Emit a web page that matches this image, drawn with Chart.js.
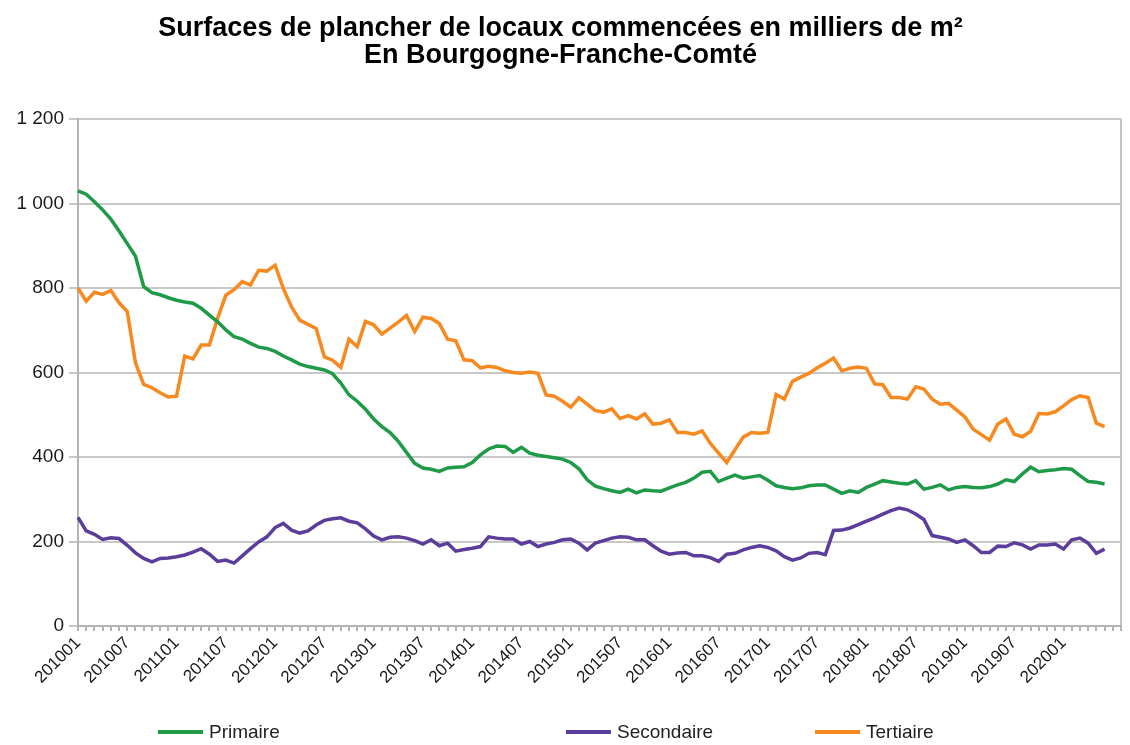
<!DOCTYPE html>
<html lang="fr">
<head>
<meta charset="utf-8">
<script src="https://cdn.jsdelivr.net/npm/chart.js@4.4.1/dist/chart.umd.min.js"></script>
<style>
  body { margin: 0; background: #fff; }
  #cadre { position: relative; width: 1130px; height: 745px; }
  .legende { position: absolute; top: 721px; display: flex; align-items: center;
    font: 19px "Liberation Sans", Arial, sans-serif; color: #222; }
  .legende span.trait { display: inline-block; width: 45px; height: 4px; margin-right: 6px; }
</style>
</head>
<body>
<div id="cadre">
  <canvas id="graphique" width="1130" height="745"></canvas>
  <div class="legende" style="left:158px"><span class="trait" style="background:#1f9a48"></span>Primaire</div>
  <div class="legende" style="left:566px"><span class="trait" style="background:#5b3d9b"></span>Secondaire</div>
  <div class="legende" style="left:815px"><span class="trait" style="background:#f7891f"></span>Tertiaire</div>
</div>
<script>
// ========== DONNEES ==========
const mois = [
  '201001','201002','201003','201004','201005','201006','201007','201008','201009','201010','201011','201012',
  '201101','201102','201103','201104','201105','201106','201107','201108','201109','201110','201111','201112',
  '201201','201202','201203','201204','201205','201206','201207','201208','201209','201210','201211','201212',
  '201301','201302','201303','201304','201305','201306','201307','201308','201309','201310','201311','201312',
  '201401','201402','201403','201404','201405','201406','201407','201408','201409','201410','201411','201412',
  '201501','201502','201503','201504','201505','201506','201507','201508','201509','201510','201511','201512',
  '201601','201602','201603','201604','201605','201606','201607','201608','201609','201610','201611','201612',
  '201701','201702','201703','201704','201705','201706','201707','201708','201709','201710','201711','201712',
  '201801','201802','201803','201804','201805','201806','201807','201808','201809','201810','201811','201812',
  '201901','201902','201903','201904','201905','201906','201907','201908','201909','201910','201911','201912',
  '202001','202002','202003','202004','202005','202006','202007','202008'
];

// libellés affichés sous l'axe (un sur six)
const moisAffiches = [
  '201001','201007','201101','201107','201201','201207','201301','201307','201401','201407','201501',
  '201507','201601','201607','201701','201707','201801','201807','201901','201907','202001'
];

const primaire = [
  1030, 1022, 1004, 985, 963, 935, 905, 875, 803, 789, 784, 777,
  771, 767, 764, 752, 736, 720, 701, 685, 679, 669, 660, 657,
  650, 639, 630, 620, 614, 610, 606, 597, 575, 547, 532, 513,
  490, 472, 458, 437, 411, 385, 374, 371, 366, 374, 376, 377,
  387, 405, 419, 426, 425, 411, 423, 409, 404, 401, 398, 395,
  387, 372, 346, 331, 325, 320, 316, 324, 315, 322, 320, 319,
  327, 334, 340, 350, 364, 366, 342, 350, 357, 350, 353, 356,
  345, 332, 328, 325, 327, 332, 334, 334, 324, 314, 320, 316,
  328, 336, 344, 341, 338, 336, 344, 324, 328, 334, 322, 328,
  330, 328, 327, 330, 336, 346, 342, 360, 376, 365, 368, 370,
  373, 371, 356, 342, 340, 336, null, null
];

const secondaire = [
  257, 225, 217, 205, 209, 207, 191, 173, 160, 152, 160, 161,
  164, 168, 175, 183, 170, 153, 156, 149, 166, 183, 199, 211,
  233, 243, 227, 220, 225, 239, 250, 254, 256, 248, 244, 230,
  213, 204, 210, 211, 208, 202, 194, 204, 190, 196, 177, 181,
  184, 188, 211, 208, 206, 206, 194, 200, 188, 194, 198, 204,
  206, 196, 180, 196, 202, 208, 211, 210, 204, 204, 190, 177,
  170, 173, 174, 166, 166, 162, 153, 170, 172, 180, 186, 190,
  186, 178, 164, 156, 161, 172, 174, 169, 226, 227, 232, 240,
  248, 256, 265, 273, 279, 275, 265, 252, 214, 210, 206, 198,
  204, 190, 174, 174, 189, 188, 197, 192, 182, 192, 192, 194,
  182, 204, 208, 196, 172, 182, null, null
];

const tertiaire = [
  800, 769, 790, 785, 794, 765, 744, 623, 572, 564, 552, 542,
  544, 639, 632, 665, 665, 728, 783, 796, 815, 807, 842, 840,
  854, 799, 755, 724, 714, 704, 637, 629, 612, 679, 661, 721,
  713, 691, 705, 719, 735, 697, 731, 728, 716, 679, 675, 630,
  628, 611, 615, 612, 604, 600, 598, 601, 598, 547, 544, 532,
  518, 540, 525, 510, 506, 514, 491, 498, 490, 502, 478, 480,
  488, 458, 458, 454, 462, 432, 409, 387, 417, 447, 458, 456,
  458, 548, 537, 579, 589, 598, 611, 622, 634, 604, 610, 613,
  610, 573, 571, 541, 541, 537, 566, 561, 537, 525, 527, 511,
  495, 466, 453, 440, 478, 490, 454, 448, 461, 503, 502, 507,
  521, 536, 545, 541, 480, 472, null, null
];

const graduationsY = [0, 200, 400, 600, 800, 1000, 1200];

// ========== GRAPHIQUE ==========
const police = '"Liberation Sans", Arial, sans-serif';

function formatMilliers(v) {
  if (v >= 1000) return Math.floor(v / 1000) + ' ' + String(v % 1000).padStart(3, '0');
  return String(v);
}

function serie(label, data, couleur) {
  return {
    label: label,
    data: data,
    borderColor: couleur,
    backgroundColor: couleur,
    borderWidth: 3.5,
    pointRadius: 0,
    tension: 0,
    spanGaps: false
  };
}

new Chart(document.getElementById('graphique'), {
  type: 'line',
  data: {
    labels: mois,
    datasets: [
      serie('Primaire', primaire, '#1f9a48'),
      serie('Secondaire', secondaire, '#5b3d9b'),
      serie('Tertiaire', tertiaire, '#f7891f')
    ]
  },
  options: {
    responsive: false,
    animation: false,
    layout: { padding: { left: 0, right: 9, top: 0, bottom: 0 } },
    plugins: {
      legend: { display: false },
      tooltip: { enabled: false },
      title: {
        display: true,
        text: ['Surfaces de plancher de locaux commencées en milliers de m²', 'En Bourgogne-Franche-Comté'],
        color: '#000',
        font: { family: police, size: 27, weight: 'bold', lineHeight: 1.0 },
        padding: { top: 15, bottom: 50 }
      }
    },
    scales: {
      x: {
        offset: false,
        grid: {
          drawOnChartArea: true,
          color: (c) => c.index === mois.length - 1 ? '#c4c4c4' : 'rgba(0,0,0,0)',
          lineWidth: 2,
          tickColor: '#b4b4b4',
          tickLength: 5
        },
        border: { display: true, color: '#b4b4b4', width: 2 },
        ticks: {
          autoSkip: false,
          minRotation: 45,
          maxRotation: 45,
          padding: 2,
          color: '#1a1a1a',
          font: { family: police, size: 17 },
          callback: function (val, i) { return moisAffiches.includes(mois[i]) ? mois[i] : ''; }
        },
        afterFit: (s) => { s.height = 119; s.paddingRight = 0; }
      },
      y: {
        min: 0,
        max: 1200,
        afterBuildTicks: (s) => { s.ticks = graduationsY.map(v => ({ value: v })); },
        grid: { color: '#c8c8c8', lineWidth: 2, tickLength: 9, tickColor: '#c8c8c8' },
        border: { display: true, color: '#b4b4b4', width: 2 },
        ticks: {
          padding: 5,
          color: '#1a1a1a',
          font: { family: police, size: 19 },
          callback: (v) => formatMilliers(v)
        },
        afterFit: (s) => { s.width = 78; }
      }
    }
  }
});
</script>
</body>
</html>
